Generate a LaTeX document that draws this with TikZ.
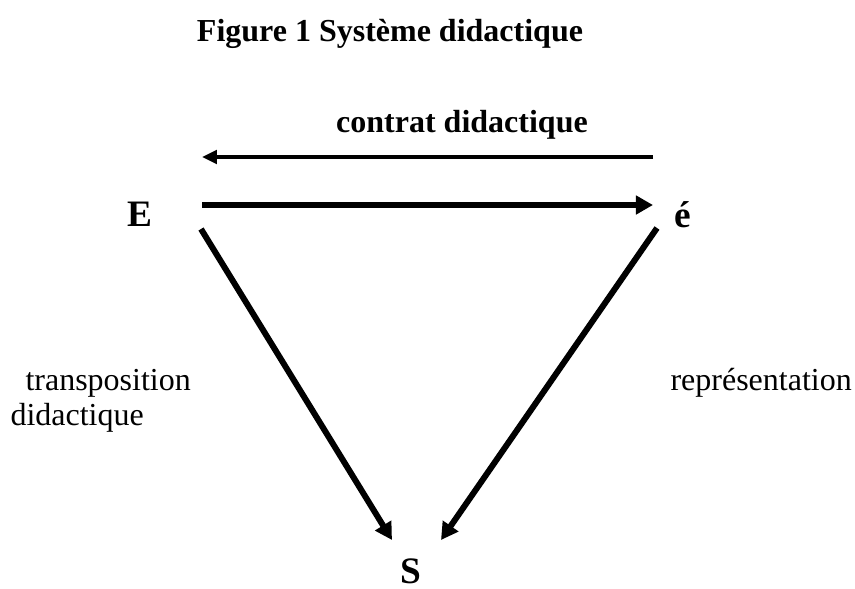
\documentclass[tikz,border=0pt]{standalone}
\usepackage{fontspec}
\setmainfont{Liberation Serif}
\usetikzlibrary{arrows.meta}

\begin{document}
\begin{tikzpicture}[x=0.375pt,y=-0.375pt,
  label text/.style={anchor=base,inner sep=0pt,font=\fontsize{12}{14}\selectfont},
  bold text/.style={label text,font=\fontsize{12}{14}\selectfont\bfseries},
  pole/.style={anchor=base,inner sep=0pt,font=\fontsize{14}{17}\selectfont\bfseries},
  thin arrow/.style={line width=1.5pt,-{Triangle[length=5.6pt,width=5pt]}},
  thick arrow/.style={line width=2.25pt,-{Triangle[length=6.4pt,width=6.8pt]}}]
\useasboundingbox (0,0) rectangle (855,588);
\node[bold text] (title) at (390,41) {Figure 1 Système didactique};
\node[bold text] (contrat) at (462,132) {contrat didactique};
\node[pole] (E) at (140,226) {E};
\node[pole] (e) at (683,227) {é};
\node[pole] (S) at (411,583) {S};
\node[label text,anchor=base west] (transpo) at (25,390) {transposition};
\node[label text,anchor=base west] (didac) at (10,425) {didactique};
\node[label text,anchor=base west] (repres) at (670,390) {représentation};
\coordinate (c1) at (653,157);
\coordinate (c2) at (202,157);
\coordinate (c3) at (202,205);
\coordinate (c4) at (653,205);
\coordinate (d1) at (201,229);
\coordinate (d2) at (392,540);
\coordinate (d3) at (657,228);
\coordinate (d4) at (441,540);
\draw[thin arrow] (c1) -- (c2);
\draw[thick arrow] (c3) -- (c4);
\draw[thick arrow] (d1) -- (d2);
\draw[thick arrow] (d3) -- (d4);
\end{tikzpicture}
\end{document}
